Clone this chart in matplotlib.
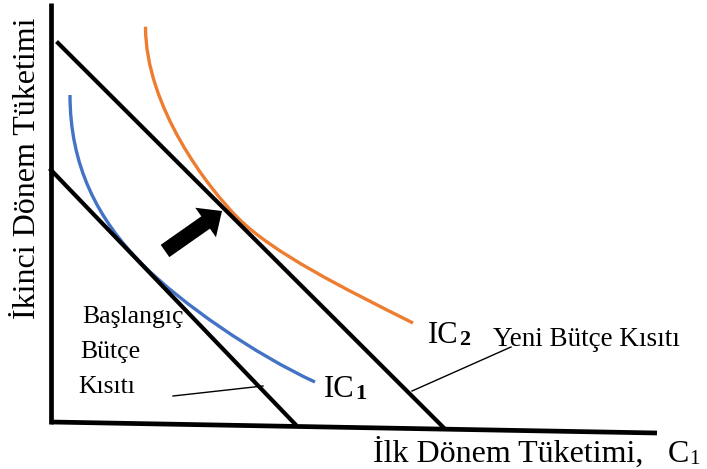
import matplotlib
matplotlib.use("Agg")
import matplotlib.pyplot as plt
from matplotlib.patches import FancyArrow, PathPatch
from matplotlib.path import Path

# ---- data (diagram units: x to the right, y downward as in the picture) ----
y_axis_x = [51, 51]
y_axis_y = [3, 424]
x_axis_x = [51, 657]
x_axis_y = [422, 433]

initial_budget_x = [51, 295]
initial_budget_y = [170, 424]
new_budget_x = [58, 443]
new_budget_y = [43, 427]

# indifference curves: start, Bezier controls, tangency point, Bezier controls, end
ic1_x = [70, 70, 97, 143, 182, 255, 315]
ic1_y = [95, 165, 219, 265, 304, 354.4, 382]

ic2_x = [145.5, 145.5, 208, 238, 273, 343, 413]
ic2_y = [26.7, 106.7, 188, 218, 253, 288, 323]

arrow_start = (165, 251)
arrow_end = (222, 211)

lead_initial_x = [173, 263]
lead_initial_y = [396, 386]
lead_new_x = [412, 511]
lead_new_y = [391, 347]

ylabel = "İkinci Dönem Tüketimi"
xlabel = "İlk Dönem Tüketimi,"
initial_label = ["Başlangıç", "Bütçe", "Kısıtı"]
new_label = "Yeni Bütçe Kısıtı"

BLUE = "#4472C4"
ORANGE = "#ED7D31"
SERIF = ["Liberation Serif", "DejaVu Serif"]

fig = plt.figure(figsize=(7.07, 4.69), dpi=100)
ax = fig.add_axes([0, 0, 1, 1])
ax.set_xlim(0, 707)
ax.set_ylim(469, 0)
ax.axis("off")

# axes
ax.plot(y_axis_x, y_axis_y, color="black", lw=3.4, solid_capstyle="butt")
ax.plot(x_axis_x, x_axis_y, color="black", lw=3.4, solid_capstyle="butt")

# budget lines
ax.plot(initial_budget_x, initial_budget_y, color="black", lw=3.0)
ax.plot(new_budget_x, new_budget_y, color="black", lw=3.0)

# indifference curves
codes = [Path.MOVETO] + [Path.CURVE4] * 6
for xs, ys, col in [(ic1_x, ic1_y, BLUE), (ic2_x, ic2_y, ORANGE)]:
    path = Path(list(zip(xs, ys)), codes)
    ax.add_patch(PathPatch(path, fill=False, edgecolor=col, lw=2.4, capstyle="butt"))

# arrow
dx = arrow_end[0] - arrow_start[0]
dy = arrow_end[1] - arrow_start[1]
ax.add_patch(FancyArrow(arrow_start[0], arrow_start[1], dx, dy, width=15,
                        head_width=36, head_length=20, length_includes_head=True,
                        color="black", lw=0))

# leader lines
ax.plot(lead_initial_x, lead_initial_y, color="black", lw=1.0)
ax.plot(lead_new_x, lead_new_y, color="black", lw=1.0)

# texts
ax.text(35, 168, ylabel, rotation=90, ha="center", va="baseline",
        fontsize=23, family=SERIF, rotation_mode="anchor")
ax.text(373, 462, xlabel, ha="left", va="baseline", fontsize=23, family=SERIF)
ax.text(668, 462, "C", ha="left", va="baseline", fontsize=23, family=SERIF)
ax.text(689, 464, "1", ha="left", va="baseline", fontsize=15, family=SERIF)

ax.text(82, 323, initial_label[0], ha="left", va="baseline", fontsize=18.5, family=SERIF)
ax.text(80, 358, initial_label[1], ha="left", va="baseline", fontsize=18.5, family=SERIF)
ax.text(78, 393, initial_label[2], ha="left", va="baseline", fontsize=18.5, family=SERIF)

ax.text(493, 346, new_label, ha="left", va="baseline", fontsize=19.5, family=SERIF)

ax.text(324, 397, "IC", ha="left", va="baseline", fontsize=22, family=SERIF)
ax.text(355, 399, "1", ha="left", va="baseline", fontsize=16, family=SERIF, weight="bold")
ax.text(428, 343, "IC", ha="left", va="baseline", fontsize=22, family=SERIF)
ax.text(459, 345, "2", ha="left", va="baseline", fontsize=16, family=SERIF, weight="bold")

fig.savefig("out.png", dpi=100)
